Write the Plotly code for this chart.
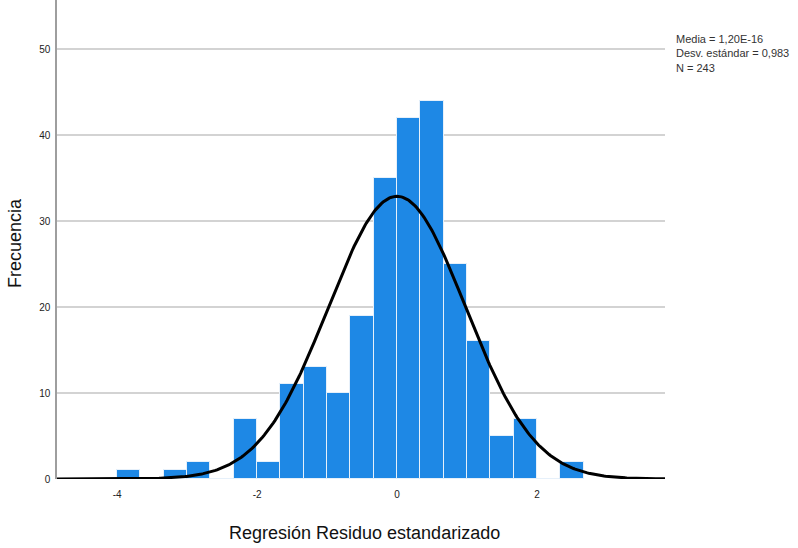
import numpy as np
import plotly.graph_objects as go

# Bin left edges (width 1/3) and frequencies
bin_width = 1/3
bin_left = [-4.0, -3.6667, -3.3333, -3.0, -2.6667, -2.3333, -2.0, -1.6667, -1.3333, -1.0,
            -0.6667, -0.3333, 0.0, 0.3333, 0.6667, 1.0, 1.3333, 1.6667, 2.0, 2.3333]
freq = [1, 0, 1, 2, 0, 7, 2, 11, 13, 10, 19, 35, 42, 44, 25, 16, 5, 7, 0, 2]

mean = 0.0
sd = 0.983
n = 243

stats_text = ["Media = 1,20E-16", "Desv. estándar = 0,983", "N = 243"]
y_ticks = [0, 10, 20, 30, 40, 50]
x_ticks = [-4, -2, 0, 2]

centers = [b + bin_width/2 for b in bin_left]

xs = np.linspace(-4.86, 3.83, 400)
ys = n * bin_width / (sd * np.sqrt(2*np.pi)) * np.exp(-0.5*((xs-mean)/sd)**2)

L, R, T, B = 57, 133, 0, 69
W, H = 798, 548
pw = W - L - R
ph = H - T - B
def px(xp): return (xp - L) / pw
def py(yp): return (H - B - yp) / ph

fig = go.Figure()
fig.add_trace(go.Bar(x=centers, y=freq, width=bin_width,
                     marker=dict(color="#1E88E5", line=dict(color="#E6F0FA", width=1)),
                     showlegend=False, hoverinfo="skip"))
fig.add_trace(go.Scatter(x=xs, y=ys, mode="lines",
                         line=dict(color="black", width=3), showlegend=False))

fig.update_layout(
    width=W, height=H,
    margin=dict(l=L, r=R, t=T, b=B, autoexpand=False),
    plot_bgcolor="white", paper_bgcolor="white",
    font=dict(family="Liberation Sans, Arial, sans-serif", color="#222"),
    bargap=0,
    xaxis=dict(range=[-4.86, 3.83], tickvals=x_ticks, ticktext=[str(v) for v in x_ticks],
               showgrid=False, zeroline=False, showline=False, automargin=False,
               ticks="", tickfont=dict(size=10), ticklabelstandoff=8),
    yaxis=dict(range=[0, 55.7], tickvals=y_ticks, showgrid=True, gridcolor="#D3D3D3",
               gridwidth=1.5, zeroline=False, showline=True, linecolor="#9E9E9E",
               linewidth=1.5, ticks="", tickfont=dict(size=10), ticklabelstandoff=3,
               automargin=False),
    annotations=[
        dict(text="Frecuencia", x=px(15), y=py(243), xref="paper", yref="paper",
             showarrow=False, textangle=-90, font=dict(size=18, color="#111"),
             xanchor="center", yanchor="middle"),
        dict(text="Regresión Residuo estandarizado", x=px(364), y=py(533),
             xref="paper", yref="paper", showarrow=False,
             font=dict(size=18, color="#111"), xanchor="center", yanchor="middle"),
        dict(text="<br>".join(stats_text), x=px(674), y=py(31), xref="paper", yref="paper",
             showarrow=False, align="left", xanchor="left", yanchor="top",
             font=dict(size=11, color="#333")),
    ],
)

fig.write_html("out.html", config={"displayModeBar": False},
               post_script="document.body.style.margin='0px';")
